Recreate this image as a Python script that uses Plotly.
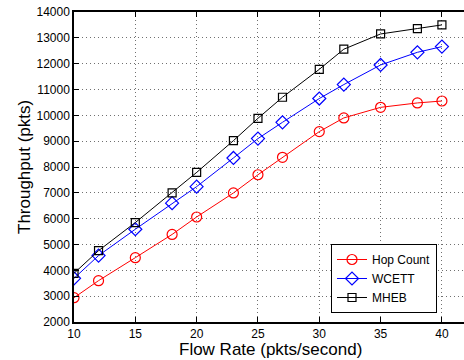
import plotly.graph_objects as go

flow_rate = [10, 12, 15, 18, 20, 23, 25, 27, 30, 32, 35, 38, 40]
hop_count = [2940, 3600, 4490, 5390, 6065, 6995, 7700, 8375, 9370, 9900, 10310, 10480, 10555]
wcett = [3690, 4570, 5590, 6600, 7240, 8350, 9100, 9730, 10650, 11190, 11950, 12440, 12660]
mheb = [3885, 4760, 5850, 7000, 7790, 9020, 9885, 10700, 11780, 12560, 13150, 13360, 13500]

x_ticks = [10, 15, 20, 25, 30, 35, 40]
y_ticks = list(range(2000, 14001, 1000))
x_title = "Flow Rate (pkts/second)"
y_title = "Throughput (pkts)"

fig = go.Figure()
series = [
    ("Hop Count", hop_count, "red", "circle-open", 10),
    ("WCETT", wcett, "blue", "diamond-open", 10),
    ("MHEB", mheb, "black", "square-open", 8),
]
for name, vals, col, sym, sz in series:
    fig.add_trace(go.Scatter(
        x=flow_rate, y=vals, name=name, mode="lines+markers",
        line=dict(color=col, width=1),
        marker=dict(symbol=sym, size=sz, color=col, line=dict(width=1.2, color=col)),
    ))

axis_common = dict(
    showline=True, linecolor="black", linewidth=1.5,
    ticks="inside", ticklen=5, tickcolor="black",
    showgrid=True, gridcolor="#707070", griddash="1px,3px", gridwidth=1,
    zeroline=False, tickfont=dict(size=12, color="black"), automargin=False,
)
fig.update_xaxes(range=[10, 41.8], tickvals=x_ticks, mirror="ticks", **axis_common)
fig.update_yaxes(range=[2000, 14000], tickvals=y_ticks, tickformat="d", mirror=False, **axis_common)

fig.add_annotation(text=x_title, xref="paper", yref="paper", x=(270 - 74) / 390, y=-27.5 / 310,
                   xanchor="center", yanchor="middle", showarrow=False,
                   font=dict(size=17, color="black"))
fig.add_annotation(text=y_title, xref="paper", yref="paper", x=-50 / 390, y=0.5, textangle=-90,
                   xanchor="center", yanchor="middle", showarrow=False,
                   font=dict(size=17, color="black"))

fig.update_layout(
    width=464, height=360,
    margin=dict(l=74, r=0, t=12, b=38),
    paper_bgcolor="white", plot_bgcolor="white",
    font=dict(family="Liberation Sans, Arial, sans-serif", color="black"),
    legend=dict(x=(437 - 74) / 390, y=9 / 310, xanchor="right", yanchor="bottom",
                bgcolor="white", bordercolor="black", borderwidth=1,
                font=dict(size=12), tracegroupgap=0, itemwidth=30),
    showlegend=True,
)

fig.write_html("out.html", config={"displayModeBar": False},
               post_script="document.body.style.margin='0px';")
